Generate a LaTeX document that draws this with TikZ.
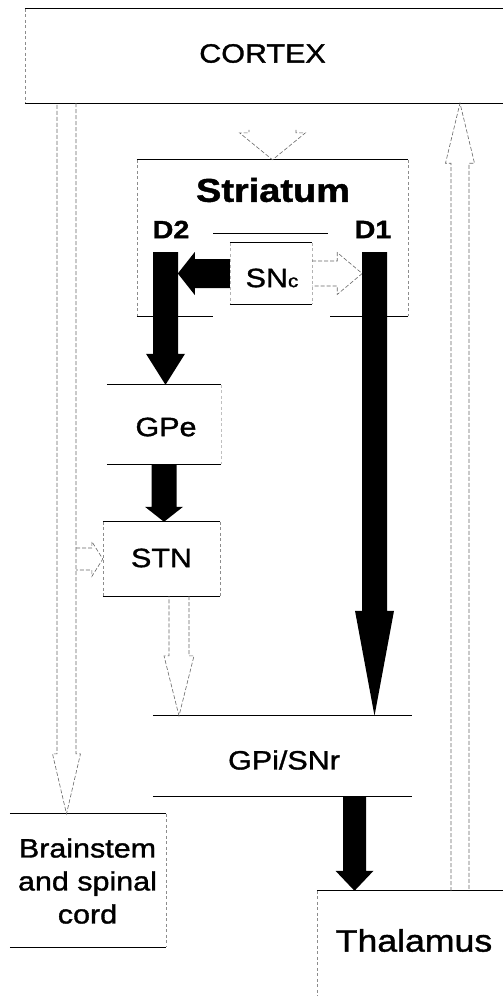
\documentclass[tikz,border=0pt]{standalone}
\usepackage{fontspec}
\setmainfont{Liberation Sans}[FakeStretch=1.15, FakeBold=1.3]
\usetikzlibrary{calc}

\tikzset{
  region/.style 2 args={minimum width=#1pt, minimum height=#2pt, inner sep=0pt},
  edge/.style={line width=1.2pt},
  side/.style={black!45, line width=0.5pt, dash pattern=on 3pt off 2.5pt},
  hollow/.style={draw=black!60, line width=0.6pt, dash pattern=on 4pt off 2pt},
  solidarr/.style={fill=black},
  lab/.style={font=\fontsize{26.5}{33}\selectfont},
  dlab/.style={font=\bfseries\fontsize{25}{26}\selectfont},
}

\newcommand{\blockarrow}[6][solidarr]{%
  \coordinate (ba-a) at (#2);
  \coordinate (ba-b) at (#3);
  \coordinate (ba-h) at ($(ba-b)!#6!(ba-a)$);
  \path[#1] ($(ba-a)!#4!90:(ba-b)$) -- ($(ba-h)!#4!-90:(ba-a)$)
    -- ($(ba-h)!#5!-90:(ba-a)$) -- (ba-b)
    -- ($(ba-h)!#5!90:(ba-a)$) -- ($(ba-h)!#4!90:(ba-a)$)
    -- ($(ba-a)!#4!-90:(ba-b)$);
}

\begin{document}
\begin{tikzpicture}[x=1pt, y=-1pt, every node/.style={inner sep=0pt}]
\useasboundingbox (0,0) rectangle (503,996);

\node[region={478}{94}] (cortex) at (264,56) {};
\node[region={271}{156}] (striatum) at (272.5,238) {};
\node[region={82}{61}] (snc) at (271,273.5) {};
\node[region={114}{79}] (gpe) at (164,424.5) {};
\node[region={117}{74}] (stn) at (161.5,559) {};
\node[region={259}{80}] (gpi) at (282.5,756) {};
\node[region={156}{133}] (brainstem) at (88,880.5) {};
\node[region={186}{105}] (thalamus) at (410,943.5) {};

\draw[edge] (cortex.north west) -- (cortex.north east) (cortex.south west) -- (cortex.south east);
\draw[side] (cortex.north west) -- (cortex.south west);
\draw[edge, line width=0.8pt] (striatum.north west) -- (striatum.north east);
\draw[edge] (striatum.south west) -- ++(76,0) (striatum.south east) -- ++(-78,0);
\draw[side] (striatum.north west) -- (striatum.south west) (striatum.north east) -- (striatum.south east);
\draw[edge, line width=0.9pt] (213,233) -- (328,233);
\draw[edge] (snc.north west) -- (snc.north east) (snc.south west) -- (snc.south east);
\draw[side, black!30] (snc.north west) -- (snc.south west) (snc.north east) -- (snc.south east);
\draw[edge] (gpe.north west) -- (gpe.north east) (gpe.south west) -- (gpe.south east);
\draw[side, black!25] (gpe.north east) -- (gpe.south east);
\draw[edge] (stn.north west) -- (stn.north east) (stn.south west) -- (stn.south east);
\draw[side] (stn.north west) -- (stn.south west) (stn.north east) -- (stn.south east);
\draw[edge] (gpi.north west) -- (gpi.north east) (gpi.south west) -- (gpi.south east);
\draw[edge] (brainstem.north west) -- (brainstem.north east) (brainstem.south west) -- (brainstem.south east);
\draw[side] (brainstem.north east) -- (brainstem.south east);
\draw[edge] (thalamus.north west) -- (thalamus.north east);
\draw[side] (thalamus.north west) -- (thalamus.south west);

\node[lab] (cortexlab) at (262.5,53.5) {CORTEX};
\node[font=\bfseries\fontsize{33}{36}\selectfont] (striatumlab) at (273,190) {Striatum};
\node[dlab] (d2) at (171,229.5) {D2};
\node[dlab] (d1) at (373,229.5) {D1};
\node[lab] (snclab) at (272,278) {SN{\fontsize{18}{18}\selectfont c}};
\node[lab] (gpelab) at (166,427) {GPe};
\node[lab] (stnlab) at (161.5,558) {STN};
\node[lab] (gpilab) at (284,760) {GPi/SNr};
\node[lab, align=center] (brainlab) at (87.5,881) {Brainstem\\and spinal\\cord};
\node[font=\fontsize{31}{34}\selectfont] (thallab) at (414,940.5) {Thalamus};

\coordinate (d2bar) at (165.5,252);
\coordinate (d1bar) at (374.5,252);
\coordinate (stnout) at (179,596);
\coordinate (gpiout) at (354.5,796);
\coordinate (ctxleft) at (66.5,103);
\coordinate (stnin) at (76,559);
\coordinate (thalout) at (460,891);

\blockarrow[hollow]{$(striatum.north)+(0,-30)$}{striatum.north}{23.5pt}{33pt}{27pt}
\blockarrow{snc.west}{$(snc.west)+(-52,0)$}{14.5pt}{21.5pt}{17pt}
\blockarrow[hollow]{snc.east}{$(snc.east)+(50,0)$}{12.5pt}{21pt}{25pt}
\blockarrow{d2bar}{d2bar |- gpe.north}{12.5pt}{19.5pt}{31pt}
\blockarrow{d1bar}{d1bar |- gpi.north}{12.5pt}{19.5pt}{105pt}
\blockarrow{gpe.south}{gpe.south |- stn.north}{12.5pt}{19pt}{15pt}
\blockarrow[hollow]{stnout}{stnout |- gpi.north}{10pt}{15pt}{60pt}
\blockarrow{gpiout}{gpiout |- thalamus.north}{11.5pt}{19pt}{20pt}
\blockarrow[hollow]{ctxleft}{ctxleft |- brainstem.north}{9.5pt}{14pt}{60pt}
\blockarrow[hollow]{stnin}{stnin -| stn.west}{11pt}{17.5pt}{11pt}
\blockarrow[hollow]{thalout}{thalout |- cortex.south}{9pt}{14.5pt}{60pt}
\end{tikzpicture}
\end{document}
